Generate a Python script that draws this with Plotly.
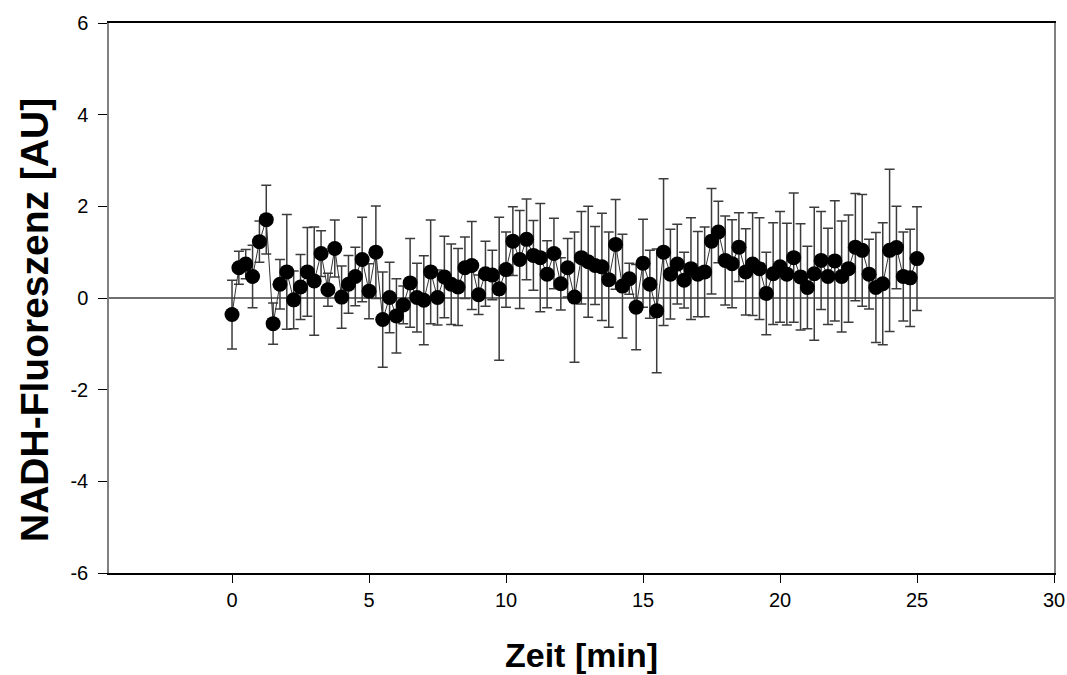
import plotly.graph_objects as go

time_min = [i * 0.25 for i in range(101)]

nadh = [-0.36, 0.66, 0.74, 0.47, 1.23, 1.71, -0.56, 0.30, 0.57, -0.04,
        0.24, 0.57, 0.37, 0.97, 0.18, 1.08, 0.02, 0.30, 0.47, 0.84,
        0.15, 1.00, -0.47, 0.01, -0.39, -0.15, 0.33, 0.01, -0.05, 0.57,
        0.01, 0.46, 0.30, 0.24, 0.66, 0.71, 0.07, 0.53, 0.50, 0.20,
        0.62, 1.24, 0.84, 1.28, 0.93, 0.88, 0.52, 0.97, 0.31, 0.66,
        0.02, 0.88, 0.79, 0.71, 0.68, 0.40, 1.17, 0.26, 0.42, -0.20,
        0.76, 0.30, -0.28, 1.00, 0.52, 0.74, 0.39, 0.64, 0.52, 0.57,
        1.24, 1.44, 0.82, 0.75, 1.11, 0.57, 0.74, 0.64, 0.10, 0.53,
        0.68, 0.52, 0.88, 0.46, 0.23, 0.53, 0.82, 0.47, 0.81, 0.47,
        0.64, 1.11, 1.04, 0.52, 0.23, 0.31, 1.04, 1.10, 0.47, 0.44,
        0.86]

nadh_err = [0.75, 0.36, 0.32, 0.68, 0.45, 0.75, 0.45, 0.54, 1.25, 0.63,
            0.71, 0.97, 1.18, 0.50, 0.36, 0.62, 0.68, 0.63, 0.64, 0.92,
            0.60, 1.01, 1.04, 0.77, 0.81, 0.41, 0.97, 0.75, 0.97, 1.13,
            0.60, 0.89, 0.88, 0.84, 0.67, 0.96, 0.43, 0.71, 0.54, 1.56,
            0.82, 0.75, 1.07, 0.88, 0.76, 1.18, 0.73, 0.77, 0.57, 0.64,
            1.42, 1.01, 1.21, 0.85, 1.17, 1.04, 0.98, 1.13, 0.34, 0.93,
            0.96, 0.74, 1.35, 1.60, 0.98, 0.87, 0.61, 1.11, 0.93, 0.98,
            1.15, 0.67, 0.97, 0.96, 0.75, 0.94, 1.12, 1.11, 0.90, 1.11,
            1.21, 1.11, 1.41, 1.16, 0.90, 1.45, 1.07, 1.05, 1.31, 1.21,
            1.17, 1.17, 1.22, 0.76, 1.20, 1.33, 1.77, 0.90, 0.97, 1.06,
            1.13]

x_ticks = [0, 5, 10, 15, 20, 25, 30]
y_ticks = [-6, -4, -2, 0, 2, 4, 6]

fig = go.Figure()
fig.add_trace(go.Scatter(
    x=time_min, y=nadh,
    mode="lines+markers",
    line=dict(color="#333333", width=1),
    marker=dict(color="black", size=15, symbol="circle"),
    error_y=dict(type="data", array=nadh_err, visible=True,
                 color="#3c3c3c", thickness=1.5, width=5),
    showlegend=False,
))

font_family = "Liberation Sans, Arial, sans-serif"

fig.update_layout(
    width=1067, height=675,
    margin=dict(l=109, r=13, t=23, b=102),
    paper_bgcolor="white", plot_bgcolor="white",
    font=dict(family=font_family, color="black"),
    xaxis=dict(
        range=[-4.49, 30], tickvals=x_ticks, ticktext=[str(v) for v in x_ticks],
        showgrid=False, zeroline=False, automargin=False,
        showline=True, linecolor="black", linewidth=1.5, mirror=True,
        ticks="outside", ticklen=8, tickwidth=1, tickcolor="black",
        tickfont=dict(size=20, family=font_family),
    ),
    yaxis=dict(
        range=[-6, 6], tickvals=y_ticks, ticktext=[str(v) for v in y_ticks],
        showgrid=False, automargin=False,
        zeroline=True, zerolinecolor="#707070", zerolinewidth=1.5,
        showline=True, linecolor="#808080", linewidth=1.5, mirror=True,
        ticks="outside", ticklen=9, tickwidth=1, tickcolor="black",
        tickfont=dict(size=20, family=font_family),
        ticklabelstandoff=6,
    ),
    annotations=[
        dict(text="<b>Zeit [min]</b>", xref="paper", yref="paper",
             x=0.5, y=0, yshift=-82, xanchor="center", yanchor="middle",
             showarrow=False, font=dict(size=34, family=font_family, color="black")),
        dict(text="<b>NADH-Fluoreszenz [AU]</b>", xref="paper", yref="paper",
             x=0, y=0.5, xshift=-75, yshift=-22, xanchor="center", yanchor="middle",
             textangle=-90, showarrow=False,
             font=dict(size=39, family=font_family, color="black")),
    ],
)

fig.write_html("out.html")
